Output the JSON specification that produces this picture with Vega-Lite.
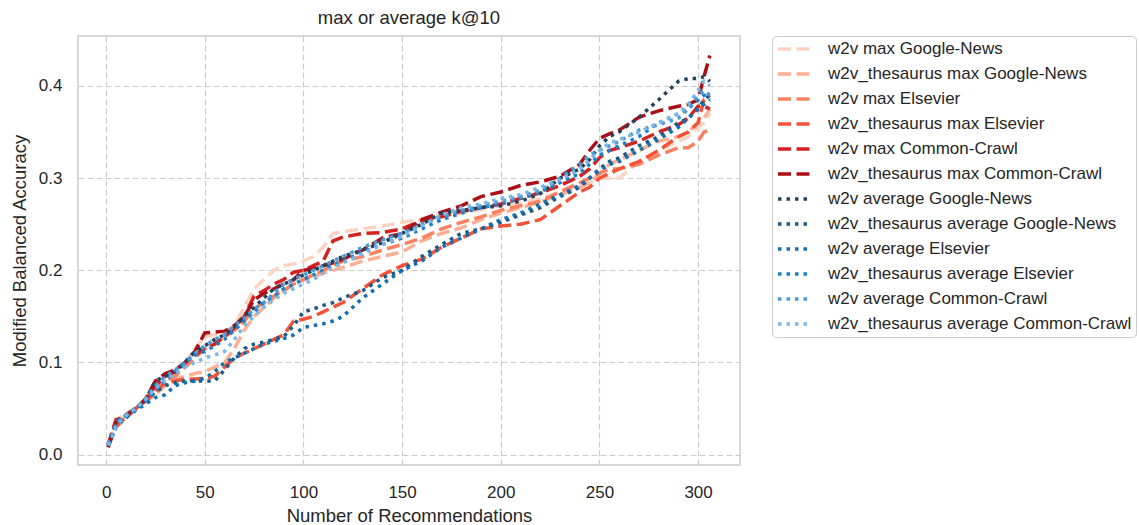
{
"$schema": "https://vega.github.io/schema/vega-lite/v6.json",
"width": 662, "height": 429,
"autosize": {"type": "none"},
"padding": {"left": 78, "top": 36, "right": 399, "bottom": 60},
"title": {"text": "max or average k@10", "fontSize": 18.5, "fontWeight": "normal", "color": "#262626", "offset": 8, "anchor": "middle", "font": "Liberation Sans"},
"data": {"values": [
{"s":"w2v max Google-News","x":1,"y":0.012},{"s":"w2v max Google-News","x":3,"y":0.022},{"s":"w2v max Google-News","x":5,"y":0.035},{"s":"w2v max Google-News","x":8,"y":0.042},{"s":"w2v max Google-News","x":10,"y":0.045},{"s":"w2v max Google-News","x":15,"y":0.05},{"s":"w2v max Google-News","x":20,"y":0.06},{"s":"w2v max Google-News","x":25,"y":0.068},{"s":"w2v max Google-News","x":30,"y":0.08},{"s":"w2v max Google-News","x":35,"y":0.09},{"s":"w2v max Google-News","x":40,"y":0.1},{"s":"w2v max Google-News","x":45,"y":0.115},{"s":"w2v max Google-News","x":50,"y":0.128},{"s":"w2v max Google-News","x":55,"y":0.13},{"s":"w2v max Google-News","x":60,"y":0.133},{"s":"w2v max Google-News","x":65,"y":0.14},{"s":"w2v max Google-News","x":70,"y":0.16},{"s":"w2v max Google-News","x":75,"y":0.18},{"s":"w2v max Google-News","x":80,"y":0.19},{"s":"w2v max Google-News","x":85,"y":0.2},{"s":"w2v max Google-News","x":90,"y":0.205},{"s":"w2v max Google-News","x":95,"y":0.207},{"s":"w2v max Google-News","x":100,"y":0.21},{"s":"w2v max Google-News","x":105,"y":0.215},{"s":"w2v max Google-News","x":110,"y":0.225},{"s":"w2v max Google-News","x":115,"y":0.24},{"s":"w2v max Google-News","x":120,"y":0.242},{"s":"w2v max Google-News","x":130,"y":0.245},{"s":"w2v max Google-News","x":140,"y":0.248},{"s":"w2v max Google-News","x":150,"y":0.252},{"s":"w2v max Google-News","x":160,"y":0.256},{"s":"w2v max Google-News","x":170,"y":0.26},{"s":"w2v max Google-News","x":180,"y":0.262},{"s":"w2v max Google-News","x":190,"y":0.266},{"s":"w2v max Google-News","x":200,"y":0.27},{"s":"w2v max Google-News","x":210,"y":0.273},{"s":"w2v max Google-News","x":220,"y":0.278},{"s":"w2v max Google-News","x":230,"y":0.285},{"s":"w2v max Google-News","x":240,"y":0.292},{"s":"w2v max Google-News","x":245,"y":0.295},{"s":"w2v max Google-News","x":250,"y":0.3},{"s":"w2v max Google-News","x":255,"y":0.3},{"s":"w2v max Google-News","x":260,"y":0.3},{"s":"w2v max Google-News","x":270,"y":0.318},{"s":"w2v max Google-News","x":280,"y":0.33},{"s":"w2v max Google-News","x":290,"y":0.34},{"s":"w2v max Google-News","x":295,"y":0.345},{"s":"w2v max Google-News","x":300,"y":0.355},{"s":"w2v max Google-News","x":303,"y":0.36},{"s":"w2v max Google-News","x":306,"y":0.37},
{"s":"w2v_thesaurus max Google-News","x":1,"y":0.01},{"s":"w2v_thesaurus max Google-News","x":3,"y":0.02},{"s":"w2v_thesaurus max Google-News","x":5,"y":0.03},{"s":"w2v_thesaurus max Google-News","x":8,"y":0.037},{"s":"w2v_thesaurus max Google-News","x":10,"y":0.04},{"s":"w2v_thesaurus max Google-News","x":15,"y":0.05},{"s":"w2v_thesaurus max Google-News","x":20,"y":0.058},{"s":"w2v_thesaurus max Google-News","x":25,"y":0.065},{"s":"w2v_thesaurus max Google-News","x":30,"y":0.075},{"s":"w2v_thesaurus max Google-News","x":35,"y":0.082},{"s":"w2v_thesaurus max Google-News","x":40,"y":0.085},{"s":"w2v_thesaurus max Google-News","x":45,"y":0.088},{"s":"w2v_thesaurus max Google-News","x":50,"y":0.09},{"s":"w2v_thesaurus max Google-News","x":55,"y":0.095},{"s":"w2v_thesaurus max Google-News","x":60,"y":0.1},{"s":"w2v_thesaurus max Google-News","x":65,"y":0.115},{"s":"w2v_thesaurus max Google-News","x":70,"y":0.135},{"s":"w2v_thesaurus max Google-News","x":75,"y":0.15},{"s":"w2v_thesaurus max Google-News","x":80,"y":0.16},{"s":"w2v_thesaurus max Google-News","x":85,"y":0.17},{"s":"w2v_thesaurus max Google-News","x":90,"y":0.178},{"s":"w2v_thesaurus max Google-News","x":95,"y":0.185},{"s":"w2v_thesaurus max Google-News","x":100,"y":0.19},{"s":"w2v_thesaurus max Google-News","x":105,"y":0.193},{"s":"w2v_thesaurus max Google-News","x":110,"y":0.197},{"s":"w2v_thesaurus max Google-News","x":115,"y":0.2},{"s":"w2v_thesaurus max Google-News","x":120,"y":0.203},{"s":"w2v_thesaurus max Google-News","x":130,"y":0.21},{"s":"w2v_thesaurus max Google-News","x":140,"y":0.215},{"s":"w2v_thesaurus max Google-News","x":150,"y":0.22},{"s":"w2v_thesaurus max Google-News","x":160,"y":0.232},{"s":"w2v_thesaurus max Google-News","x":170,"y":0.24},{"s":"w2v_thesaurus max Google-News","x":180,"y":0.246},{"s":"w2v_thesaurus max Google-News","x":190,"y":0.255},{"s":"w2v_thesaurus max Google-News","x":200,"y":0.262},{"s":"w2v_thesaurus max Google-News","x":210,"y":0.268},{"s":"w2v_thesaurus max Google-News","x":220,"y":0.274},{"s":"w2v_thesaurus max Google-News","x":230,"y":0.282},{"s":"w2v_thesaurus max Google-News","x":240,"y":0.29},{"s":"w2v_thesaurus max Google-News","x":245,"y":0.295},{"s":"w2v_thesaurus max Google-News","x":250,"y":0.305},{"s":"w2v_thesaurus max Google-News","x":255,"y":0.315},{"s":"w2v_thesaurus max Google-News","x":260,"y":0.32},{"s":"w2v_thesaurus max Google-News","x":270,"y":0.33},{"s":"w2v_thesaurus max Google-News","x":280,"y":0.34},{"s":"w2v_thesaurus max Google-News","x":290,"y":0.345},{"s":"w2v_thesaurus max Google-News","x":295,"y":0.35},{"s":"w2v_thesaurus max Google-News","x":300,"y":0.36},{"s":"w2v_thesaurus max Google-News","x":303,"y":0.365},{"s":"w2v_thesaurus max Google-News","x":306,"y":0.375},
{"s":"w2v max Elsevier","x":1,"y":0.01},{"s":"w2v max Elsevier","x":3,"y":0.022},{"s":"w2v max Elsevier","x":5,"y":0.035},{"s":"w2v max Elsevier","x":8,"y":0.04},{"s":"w2v max Elsevier","x":10,"y":0.043},{"s":"w2v max Elsevier","x":15,"y":0.05},{"s":"w2v max Elsevier","x":20,"y":0.06},{"s":"w2v max Elsevier","x":25,"y":0.072},{"s":"w2v max Elsevier","x":30,"y":0.08},{"s":"w2v max Elsevier","x":35,"y":0.085},{"s":"w2v max Elsevier","x":40,"y":0.095},{"s":"w2v max Elsevier","x":45,"y":0.105},{"s":"w2v max Elsevier","x":50,"y":0.115},{"s":"w2v max Elsevier","x":55,"y":0.12},{"s":"w2v max Elsevier","x":60,"y":0.128},{"s":"w2v max Elsevier","x":65,"y":0.135},{"s":"w2v max Elsevier","x":70,"y":0.145},{"s":"w2v max Elsevier","x":75,"y":0.158},{"s":"w2v max Elsevier","x":80,"y":0.165},{"s":"w2v max Elsevier","x":85,"y":0.172},{"s":"w2v max Elsevier","x":90,"y":0.178},{"s":"w2v max Elsevier","x":95,"y":0.185},{"s":"w2v max Elsevier","x":100,"y":0.19},{"s":"w2v max Elsevier","x":105,"y":0.195},{"s":"w2v max Elsevier","x":110,"y":0.2},{"s":"w2v max Elsevier","x":115,"y":0.205},{"s":"w2v max Elsevier","x":120,"y":0.21},{"s":"w2v max Elsevier","x":130,"y":0.215},{"s":"w2v max Elsevier","x":140,"y":0.222},{"s":"w2v max Elsevier","x":150,"y":0.228},{"s":"w2v max Elsevier","x":160,"y":0.235},{"s":"w2v max Elsevier","x":170,"y":0.245},{"s":"w2v max Elsevier","x":180,"y":0.252},{"s":"w2v max Elsevier","x":190,"y":0.258},{"s":"w2v max Elsevier","x":200,"y":0.265},{"s":"w2v max Elsevier","x":210,"y":0.27},{"s":"w2v max Elsevier","x":220,"y":0.275},{"s":"w2v max Elsevier","x":230,"y":0.285},{"s":"w2v max Elsevier","x":240,"y":0.295},{"s":"w2v max Elsevier","x":245,"y":0.3},{"s":"w2v max Elsevier","x":250,"y":0.305},{"s":"w2v max Elsevier","x":255,"y":0.31},{"s":"w2v max Elsevier","x":260,"y":0.31},{"s":"w2v max Elsevier","x":270,"y":0.315},{"s":"w2v max Elsevier","x":280,"y":0.325},{"s":"w2v max Elsevier","x":290,"y":0.333},{"s":"w2v max Elsevier","x":295,"y":0.333},{"s":"w2v max Elsevier","x":300,"y":0.34},{"s":"w2v max Elsevier","x":303,"y":0.35},{"s":"w2v max Elsevier","x":306,"y":0.352},
{"s":"w2v_thesaurus max Elsevier","x":1,"y":0.01},{"s":"w2v_thesaurus max Elsevier","x":3,"y":0.02},{"s":"w2v_thesaurus max Elsevier","x":5,"y":0.03},{"s":"w2v_thesaurus max Elsevier","x":8,"y":0.037},{"s":"w2v_thesaurus max Elsevier","x":10,"y":0.04},{"s":"w2v_thesaurus max Elsevier","x":15,"y":0.05},{"s":"w2v_thesaurus max Elsevier","x":20,"y":0.058},{"s":"w2v_thesaurus max Elsevier","x":25,"y":0.068},{"s":"w2v_thesaurus max Elsevier","x":30,"y":0.078},{"s":"w2v_thesaurus max Elsevier","x":35,"y":0.08},{"s":"w2v_thesaurus max Elsevier","x":40,"y":0.082},{"s":"w2v_thesaurus max Elsevier","x":45,"y":0.082},{"s":"w2v_thesaurus max Elsevier","x":50,"y":0.083},{"s":"w2v_thesaurus max Elsevier","x":55,"y":0.085},{"s":"w2v_thesaurus max Elsevier","x":60,"y":0.095},{"s":"w2v_thesaurus max Elsevier","x":65,"y":0.105},{"s":"w2v_thesaurus max Elsevier","x":70,"y":0.11},{"s":"w2v_thesaurus max Elsevier","x":75,"y":0.115},{"s":"w2v_thesaurus max Elsevier","x":80,"y":0.12},{"s":"w2v_thesaurus max Elsevier","x":85,"y":0.125},{"s":"w2v_thesaurus max Elsevier","x":90,"y":0.13},{"s":"w2v_thesaurus max Elsevier","x":95,"y":0.145},{"s":"w2v_thesaurus max Elsevier","x":100,"y":0.147},{"s":"w2v_thesaurus max Elsevier","x":105,"y":0.15},{"s":"w2v_thesaurus max Elsevier","x":110,"y":0.155},{"s":"w2v_thesaurus max Elsevier","x":115,"y":0.16},{"s":"w2v_thesaurus max Elsevier","x":120,"y":0.165},{"s":"w2v_thesaurus max Elsevier","x":130,"y":0.18},{"s":"w2v_thesaurus max Elsevier","x":140,"y":0.195},{"s":"w2v_thesaurus max Elsevier","x":150,"y":0.205},{"s":"w2v_thesaurus max Elsevier","x":160,"y":0.212},{"s":"w2v_thesaurus max Elsevier","x":170,"y":0.225},{"s":"w2v_thesaurus max Elsevier","x":180,"y":0.235},{"s":"w2v_thesaurus max Elsevier","x":190,"y":0.245},{"s":"w2v_thesaurus max Elsevier","x":200,"y":0.248},{"s":"w2v_thesaurus max Elsevier","x":210,"y":0.25},{"s":"w2v_thesaurus max Elsevier","x":220,"y":0.255},{"s":"w2v_thesaurus max Elsevier","x":230,"y":0.27},{"s":"w2v_thesaurus max Elsevier","x":240,"y":0.285},{"s":"w2v_thesaurus max Elsevier","x":245,"y":0.29},{"s":"w2v_thesaurus max Elsevier","x":250,"y":0.3},{"s":"w2v_thesaurus max Elsevier","x":255,"y":0.305},{"s":"w2v_thesaurus max Elsevier","x":260,"y":0.31},{"s":"w2v_thesaurus max Elsevier","x":270,"y":0.318},{"s":"w2v_thesaurus max Elsevier","x":280,"y":0.33},{"s":"w2v_thesaurus max Elsevier","x":290,"y":0.345},{"s":"w2v_thesaurus max Elsevier","x":295,"y":0.35},{"s":"w2v_thesaurus max Elsevier","x":300,"y":0.36},{"s":"w2v_thesaurus max Elsevier","x":303,"y":0.385},{"s":"w2v_thesaurus max Elsevier","x":306,"y":0.39},
{"s":"w2v max Common-Crawl","x":1,"y":0.01},{"s":"w2v max Common-Crawl","x":3,"y":0.025},{"s":"w2v max Common-Crawl","x":5,"y":0.038},{"s":"w2v max Common-Crawl","x":8,"y":0.04},{"s":"w2v max Common-Crawl","x":10,"y":0.043},{"s":"w2v max Common-Crawl","x":15,"y":0.05},{"s":"w2v max Common-Crawl","x":20,"y":0.06},{"s":"w2v max Common-Crawl","x":25,"y":0.075},{"s":"w2v max Common-Crawl","x":30,"y":0.085},{"s":"w2v max Common-Crawl","x":35,"y":0.09},{"s":"w2v max Common-Crawl","x":40,"y":0.1},{"s":"w2v max Common-Crawl","x":45,"y":0.108},{"s":"w2v max Common-Crawl","x":50,"y":0.115},{"s":"w2v max Common-Crawl","x":55,"y":0.12},{"s":"w2v max Common-Crawl","x":60,"y":0.128},{"s":"w2v max Common-Crawl","x":65,"y":0.138},{"s":"w2v max Common-Crawl","x":70,"y":0.15},{"s":"w2v max Common-Crawl","x":75,"y":0.172},{"s":"w2v max Common-Crawl","x":80,"y":0.178},{"s":"w2v max Common-Crawl","x":85,"y":0.185},{"s":"w2v max Common-Crawl","x":90,"y":0.19},{"s":"w2v max Common-Crawl","x":95,"y":0.198},{"s":"w2v max Common-Crawl","x":100,"y":0.2},{"s":"w2v max Common-Crawl","x":105,"y":0.205},{"s":"w2v max Common-Crawl","x":110,"y":0.21},{"s":"w2v max Common-Crawl","x":115,"y":0.232},{"s":"w2v max Common-Crawl","x":120,"y":0.236},{"s":"w2v max Common-Crawl","x":130,"y":0.24},{"s":"w2v max Common-Crawl","x":140,"y":0.241},{"s":"w2v max Common-Crawl","x":150,"y":0.245},{"s":"w2v max Common-Crawl","x":160,"y":0.254},{"s":"w2v max Common-Crawl","x":170,"y":0.258},{"s":"w2v max Common-Crawl","x":180,"y":0.264},{"s":"w2v max Common-Crawl","x":190,"y":0.268},{"s":"w2v max Common-Crawl","x":200,"y":0.272},{"s":"w2v max Common-Crawl","x":210,"y":0.278},{"s":"w2v max Common-Crawl","x":220,"y":0.284},{"s":"w2v max Common-Crawl","x":230,"y":0.292},{"s":"w2v max Common-Crawl","x":240,"y":0.302},{"s":"w2v max Common-Crawl","x":245,"y":0.31},{"s":"w2v max Common-Crawl","x":250,"y":0.322},{"s":"w2v max Common-Crawl","x":255,"y":0.33},{"s":"w2v max Common-Crawl","x":260,"y":0.333},{"s":"w2v max Common-Crawl","x":270,"y":0.34},{"s":"w2v max Common-Crawl","x":280,"y":0.35},{"s":"w2v max Common-Crawl","x":290,"y":0.358},{"s":"w2v max Common-Crawl","x":295,"y":0.365},{"s":"w2v max Common-Crawl","x":300,"y":0.378},{"s":"w2v max Common-Crawl","x":303,"y":0.378},{"s":"w2v max Common-Crawl","x":306,"y":0.375},
{"s":"w2v_thesaurus max Common-Crawl","x":1,"y":0.008},{"s":"w2v_thesaurus max Common-Crawl","x":3,"y":0.02},{"s":"w2v_thesaurus max Common-Crawl","x":5,"y":0.035},{"s":"w2v_thesaurus max Common-Crawl","x":8,"y":0.04},{"s":"w2v_thesaurus max Common-Crawl","x":10,"y":0.042},{"s":"w2v_thesaurus max Common-Crawl","x":15,"y":0.05},{"s":"w2v_thesaurus max Common-Crawl","x":20,"y":0.06},{"s":"w2v_thesaurus max Common-Crawl","x":25,"y":0.08},{"s":"w2v_thesaurus max Common-Crawl","x":30,"y":0.088},{"s":"w2v_thesaurus max Common-Crawl","x":35,"y":0.092},{"s":"w2v_thesaurus max Common-Crawl","x":40,"y":0.1},{"s":"w2v_thesaurus max Common-Crawl","x":45,"y":0.112},{"s":"w2v_thesaurus max Common-Crawl","x":50,"y":0.132},{"s":"w2v_thesaurus max Common-Crawl","x":55,"y":0.133},{"s":"w2v_thesaurus max Common-Crawl","x":60,"y":0.134},{"s":"w2v_thesaurus max Common-Crawl","x":65,"y":0.14},{"s":"w2v_thesaurus max Common-Crawl","x":70,"y":0.15},{"s":"w2v_thesaurus max Common-Crawl","x":75,"y":0.168},{"s":"w2v_thesaurus max Common-Crawl","x":80,"y":0.175},{"s":"w2v_thesaurus max Common-Crawl","x":85,"y":0.18},{"s":"w2v_thesaurus max Common-Crawl","x":90,"y":0.185},{"s":"w2v_thesaurus max Common-Crawl","x":95,"y":0.19},{"s":"w2v_thesaurus max Common-Crawl","x":100,"y":0.2},{"s":"w2v_thesaurus max Common-Crawl","x":105,"y":0.202},{"s":"w2v_thesaurus max Common-Crawl","x":110,"y":0.205},{"s":"w2v_thesaurus max Common-Crawl","x":115,"y":0.208},{"s":"w2v_thesaurus max Common-Crawl","x":120,"y":0.212},{"s":"w2v_thesaurus max Common-Crawl","x":130,"y":0.222},{"s":"w2v_thesaurus max Common-Crawl","x":140,"y":0.235},{"s":"w2v_thesaurus max Common-Crawl","x":150,"y":0.24},{"s":"w2v_thesaurus max Common-Crawl","x":160,"y":0.255},{"s":"w2v_thesaurus max Common-Crawl","x":170,"y":0.263},{"s":"w2v_thesaurus max Common-Crawl","x":180,"y":0.27},{"s":"w2v_thesaurus max Common-Crawl","x":190,"y":0.28},{"s":"w2v_thesaurus max Common-Crawl","x":200,"y":0.285},{"s":"w2v_thesaurus max Common-Crawl","x":210,"y":0.292},{"s":"w2v_thesaurus max Common-Crawl","x":220,"y":0.296},{"s":"w2v_thesaurus max Common-Crawl","x":230,"y":0.302},{"s":"w2v_thesaurus max Common-Crawl","x":240,"y":0.315},{"s":"w2v_thesaurus max Common-Crawl","x":245,"y":0.33},{"s":"w2v_thesaurus max Common-Crawl","x":250,"y":0.343},{"s":"w2v_thesaurus max Common-Crawl","x":255,"y":0.348},{"s":"w2v_thesaurus max Common-Crawl","x":260,"y":0.352},{"s":"w2v_thesaurus max Common-Crawl","x":270,"y":0.366},{"s":"w2v_thesaurus max Common-Crawl","x":280,"y":0.373},{"s":"w2v_thesaurus max Common-Crawl","x":290,"y":0.378},{"s":"w2v_thesaurus max Common-Crawl","x":295,"y":0.38},{"s":"w2v_thesaurus max Common-Crawl","x":300,"y":0.385},{"s":"w2v_thesaurus max Common-Crawl","x":303,"y":0.41},{"s":"w2v_thesaurus max Common-Crawl","x":306,"y":0.433},
{"s":"w2v average Google-News","x":1,"y":0.01},{"s":"w2v average Google-News","x":3,"y":0.02},{"s":"w2v average Google-News","x":5,"y":0.033},{"s":"w2v average Google-News","x":8,"y":0.04},{"s":"w2v average Google-News","x":10,"y":0.042},{"s":"w2v average Google-News","x":15,"y":0.05},{"s":"w2v average Google-News","x":20,"y":0.06},{"s":"w2v average Google-News","x":25,"y":0.08},{"s":"w2v average Google-News","x":30,"y":0.085},{"s":"w2v average Google-News","x":35,"y":0.09},{"s":"w2v average Google-News","x":40,"y":0.1},{"s":"w2v average Google-News","x":45,"y":0.112},{"s":"w2v average Google-News","x":50,"y":0.118},{"s":"w2v average Google-News","x":55,"y":0.125},{"s":"w2v average Google-News","x":60,"y":0.13},{"s":"w2v average Google-News","x":65,"y":0.138},{"s":"w2v average Google-News","x":70,"y":0.15},{"s":"w2v average Google-News","x":75,"y":0.16},{"s":"w2v average Google-News","x":80,"y":0.17},{"s":"w2v average Google-News","x":85,"y":0.18},{"s":"w2v average Google-News","x":90,"y":0.185},{"s":"w2v average Google-News","x":95,"y":0.19},{"s":"w2v average Google-News","x":100,"y":0.195},{"s":"w2v average Google-News","x":105,"y":0.2},{"s":"w2v average Google-News","x":110,"y":0.205},{"s":"w2v average Google-News","x":115,"y":0.21},{"s":"w2v average Google-News","x":120,"y":0.215},{"s":"w2v average Google-News","x":130,"y":0.222},{"s":"w2v average Google-News","x":140,"y":0.23},{"s":"w2v average Google-News","x":150,"y":0.24},{"s":"w2v average Google-News","x":160,"y":0.25},{"s":"w2v average Google-News","x":170,"y":0.262},{"s":"w2v average Google-News","x":180,"y":0.265},{"s":"w2v average Google-News","x":190,"y":0.268},{"s":"w2v average Google-News","x":200,"y":0.27},{"s":"w2v average Google-News","x":210,"y":0.275},{"s":"w2v average Google-News","x":220,"y":0.283},{"s":"w2v average Google-News","x":230,"y":0.3},{"s":"w2v average Google-News","x":240,"y":0.31},{"s":"w2v average Google-News","x":245,"y":0.32},{"s":"w2v average Google-News","x":250,"y":0.335},{"s":"w2v average Google-News","x":255,"y":0.345},{"s":"w2v average Google-News","x":260,"y":0.35},{"s":"w2v average Google-News","x":270,"y":0.366},{"s":"w2v average Google-News","x":280,"y":0.385},{"s":"w2v average Google-News","x":290,"y":0.405},{"s":"w2v average Google-News","x":295,"y":0.408},{"s":"w2v average Google-News","x":300,"y":0.408},{"s":"w2v average Google-News","x":303,"y":0.41},{"s":"w2v average Google-News","x":306,"y":0.405},
{"s":"w2v_thesaurus average Google-News","x":1,"y":0.01},{"s":"w2v_thesaurus average Google-News","x":3,"y":0.02},{"s":"w2v_thesaurus average Google-News","x":5,"y":0.03},{"s":"w2v_thesaurus average Google-News","x":8,"y":0.038},{"s":"w2v_thesaurus average Google-News","x":10,"y":0.04},{"s":"w2v_thesaurus average Google-News","x":15,"y":0.05},{"s":"w2v_thesaurus average Google-News","x":20,"y":0.058},{"s":"w2v_thesaurus average Google-News","x":25,"y":0.068},{"s":"w2v_thesaurus average Google-News","x":30,"y":0.075},{"s":"w2v_thesaurus average Google-News","x":35,"y":0.078},{"s":"w2v_thesaurus average Google-News","x":40,"y":0.08},{"s":"w2v_thesaurus average Google-News","x":45,"y":0.08},{"s":"w2v_thesaurus average Google-News","x":50,"y":0.08},{"s":"w2v_thesaurus average Google-News","x":55,"y":0.08},{"s":"w2v_thesaurus average Google-News","x":60,"y":0.092},{"s":"w2v_thesaurus average Google-News","x":65,"y":0.105},{"s":"w2v_thesaurus average Google-News","x":70,"y":0.115},{"s":"w2v_thesaurus average Google-News","x":75,"y":0.12},{"s":"w2v_thesaurus average Google-News","x":80,"y":0.122},{"s":"w2v_thesaurus average Google-News","x":85,"y":0.125},{"s":"w2v_thesaurus average Google-News","x":90,"y":0.128},{"s":"w2v_thesaurus average Google-News","x":95,"y":0.14},{"s":"w2v_thesaurus average Google-News","x":100,"y":0.155},{"s":"w2v_thesaurus average Google-News","x":105,"y":0.158},{"s":"w2v_thesaurus average Google-News","x":110,"y":0.162},{"s":"w2v_thesaurus average Google-News","x":115,"y":0.165},{"s":"w2v_thesaurus average Google-News","x":120,"y":0.17},{"s":"w2v_thesaurus average Google-News","x":130,"y":0.178},{"s":"w2v_thesaurus average Google-News","x":140,"y":0.192},{"s":"w2v_thesaurus average Google-News","x":150,"y":0.2},{"s":"w2v_thesaurus average Google-News","x":160,"y":0.215},{"s":"w2v_thesaurus average Google-News","x":170,"y":0.228},{"s":"w2v_thesaurus average Google-News","x":180,"y":0.24},{"s":"w2v_thesaurus average Google-News","x":190,"y":0.245},{"s":"w2v_thesaurus average Google-News","x":200,"y":0.252},{"s":"w2v_thesaurus average Google-News","x":210,"y":0.26},{"s":"w2v_thesaurus average Google-News","x":220,"y":0.268},{"s":"w2v_thesaurus average Google-News","x":230,"y":0.28},{"s":"w2v_thesaurus average Google-News","x":240,"y":0.29},{"s":"w2v_thesaurus average Google-News","x":245,"y":0.3},{"s":"w2v_thesaurus average Google-News","x":250,"y":0.31},{"s":"w2v_thesaurus average Google-News","x":255,"y":0.318},{"s":"w2v_thesaurus average Google-News","x":260,"y":0.322},{"s":"w2v_thesaurus average Google-News","x":270,"y":0.335},{"s":"w2v_thesaurus average Google-News","x":280,"y":0.345},{"s":"w2v_thesaurus average Google-News","x":290,"y":0.36},{"s":"w2v_thesaurus average Google-News","x":295,"y":0.365},{"s":"w2v_thesaurus average Google-News","x":300,"y":0.375},{"s":"w2v_thesaurus average Google-News","x":303,"y":0.385},{"s":"w2v_thesaurus average Google-News","x":306,"y":0.39},
{"s":"w2v average Elsevier","x":1,"y":0.01},{"s":"w2v average Elsevier","x":3,"y":0.02},{"s":"w2v average Elsevier","x":5,"y":0.03},{"s":"w2v average Elsevier","x":8,"y":0.036},{"s":"w2v average Elsevier","x":10,"y":0.04},{"s":"w2v average Elsevier","x":15,"y":0.048},{"s":"w2v average Elsevier","x":20,"y":0.055},{"s":"w2v average Elsevier","x":25,"y":0.062},{"s":"w2v average Elsevier","x":30,"y":0.065},{"s":"w2v average Elsevier","x":35,"y":0.075},{"s":"w2v average Elsevier","x":40,"y":0.078},{"s":"w2v average Elsevier","x":45,"y":0.08},{"s":"w2v average Elsevier","x":50,"y":0.083},{"s":"w2v average Elsevier","x":55,"y":0.09},{"s":"w2v average Elsevier","x":60,"y":0.1},{"s":"w2v average Elsevier","x":65,"y":0.105},{"s":"w2v average Elsevier","x":70,"y":0.11},{"s":"w2v average Elsevier","x":75,"y":0.115},{"s":"w2v average Elsevier","x":80,"y":0.12},{"s":"w2v average Elsevier","x":85,"y":0.123},{"s":"w2v average Elsevier","x":90,"y":0.126},{"s":"w2v average Elsevier","x":95,"y":0.13},{"s":"w2v average Elsevier","x":100,"y":0.138},{"s":"w2v average Elsevier","x":105,"y":0.14},{"s":"w2v average Elsevier","x":110,"y":0.142},{"s":"w2v average Elsevier","x":115,"y":0.145},{"s":"w2v average Elsevier","x":120,"y":0.15},{"s":"w2v average Elsevier","x":130,"y":0.17},{"s":"w2v average Elsevier","x":140,"y":0.185},{"s":"w2v average Elsevier","x":150,"y":0.2},{"s":"w2v average Elsevier","x":160,"y":0.21},{"s":"w2v average Elsevier","x":170,"y":0.225},{"s":"w2v average Elsevier","x":180,"y":0.235},{"s":"w2v average Elsevier","x":190,"y":0.245},{"s":"w2v average Elsevier","x":200,"y":0.255},{"s":"w2v average Elsevier","x":210,"y":0.262},{"s":"w2v average Elsevier","x":220,"y":0.272},{"s":"w2v average Elsevier","x":230,"y":0.282},{"s":"w2v average Elsevier","x":240,"y":0.292},{"s":"w2v average Elsevier","x":245,"y":0.3},{"s":"w2v average Elsevier","x":250,"y":0.308},{"s":"w2v average Elsevier","x":255,"y":0.315},{"s":"w2v average Elsevier","x":260,"y":0.318},{"s":"w2v average Elsevier","x":270,"y":0.33},{"s":"w2v average Elsevier","x":280,"y":0.342},{"s":"w2v average Elsevier","x":290,"y":0.355},{"s":"w2v average Elsevier","x":295,"y":0.365},{"s":"w2v average Elsevier","x":300,"y":0.375},{"s":"w2v average Elsevier","x":303,"y":0.38},{"s":"w2v average Elsevier","x":306,"y":0.385},
{"s":"w2v_thesaurus average Elsevier","x":1,"y":0.01},{"s":"w2v_thesaurus average Elsevier","x":3,"y":0.022},{"s":"w2v_thesaurus average Elsevier","x":5,"y":0.035},{"s":"w2v_thesaurus average Elsevier","x":8,"y":0.04},{"s":"w2v_thesaurus average Elsevier","x":10,"y":0.042},{"s":"w2v_thesaurus average Elsevier","x":15,"y":0.05},{"s":"w2v_thesaurus average Elsevier","x":20,"y":0.058},{"s":"w2v_thesaurus average Elsevier","x":25,"y":0.07},{"s":"w2v_thesaurus average Elsevier","x":30,"y":0.08},{"s":"w2v_thesaurus average Elsevier","x":35,"y":0.09},{"s":"w2v_thesaurus average Elsevier","x":40,"y":0.1},{"s":"w2v_thesaurus average Elsevier","x":45,"y":0.108},{"s":"w2v_thesaurus average Elsevier","x":50,"y":0.112},{"s":"w2v_thesaurus average Elsevier","x":55,"y":0.118},{"s":"w2v_thesaurus average Elsevier","x":60,"y":0.125},{"s":"w2v_thesaurus average Elsevier","x":65,"y":0.135},{"s":"w2v_thesaurus average Elsevier","x":70,"y":0.145},{"s":"w2v_thesaurus average Elsevier","x":75,"y":0.155},{"s":"w2v_thesaurus average Elsevier","x":80,"y":0.165},{"s":"w2v_thesaurus average Elsevier","x":85,"y":0.172},{"s":"w2v_thesaurus average Elsevier","x":90,"y":0.18},{"s":"w2v_thesaurus average Elsevier","x":95,"y":0.185},{"s":"w2v_thesaurus average Elsevier","x":100,"y":0.19},{"s":"w2v_thesaurus average Elsevier","x":105,"y":0.195},{"s":"w2v_thesaurus average Elsevier","x":110,"y":0.2},{"s":"w2v_thesaurus average Elsevier","x":115,"y":0.206},{"s":"w2v_thesaurus average Elsevier","x":120,"y":0.21},{"s":"w2v_thesaurus average Elsevier","x":130,"y":0.22},{"s":"w2v_thesaurus average Elsevier","x":140,"y":0.228},{"s":"w2v_thesaurus average Elsevier","x":150,"y":0.235},{"s":"w2v_thesaurus average Elsevier","x":160,"y":0.245},{"s":"w2v_thesaurus average Elsevier","x":170,"y":0.255},{"s":"w2v_thesaurus average Elsevier","x":180,"y":0.262},{"s":"w2v_thesaurus average Elsevier","x":190,"y":0.268},{"s":"w2v_thesaurus average Elsevier","x":200,"y":0.272},{"s":"w2v_thesaurus average Elsevier","x":210,"y":0.278},{"s":"w2v_thesaurus average Elsevier","x":220,"y":0.285},{"s":"w2v_thesaurus average Elsevier","x":230,"y":0.295},{"s":"w2v_thesaurus average Elsevier","x":240,"y":0.305},{"s":"w2v_thesaurus average Elsevier","x":245,"y":0.315},{"s":"w2v_thesaurus average Elsevier","x":250,"y":0.325},{"s":"w2v_thesaurus average Elsevier","x":255,"y":0.33},{"s":"w2v_thesaurus average Elsevier","x":260,"y":0.335},{"s":"w2v_thesaurus average Elsevier","x":270,"y":0.345},{"s":"w2v_thesaurus average Elsevier","x":280,"y":0.36},{"s":"w2v_thesaurus average Elsevier","x":290,"y":0.37},{"s":"w2v_thesaurus average Elsevier","x":295,"y":0.375},{"s":"w2v_thesaurus average Elsevier","x":300,"y":0.385},{"s":"w2v_thesaurus average Elsevier","x":303,"y":0.39},{"s":"w2v_thesaurus average Elsevier","x":306,"y":0.385},
{"s":"w2v average Common-Crawl","x":1,"y":0.012},{"s":"w2v average Common-Crawl","x":3,"y":0.02},{"s":"w2v average Common-Crawl","x":5,"y":0.032},{"s":"w2v average Common-Crawl","x":8,"y":0.04},{"s":"w2v average Common-Crawl","x":10,"y":0.043},{"s":"w2v average Common-Crawl","x":15,"y":0.05},{"s":"w2v average Common-Crawl","x":20,"y":0.06},{"s":"w2v average Common-Crawl","x":25,"y":0.075},{"s":"w2v average Common-Crawl","x":30,"y":0.085},{"s":"w2v average Common-Crawl","x":35,"y":0.092},{"s":"w2v average Common-Crawl","x":40,"y":0.1},{"s":"w2v average Common-Crawl","x":45,"y":0.11},{"s":"w2v average Common-Crawl","x":50,"y":0.118},{"s":"w2v average Common-Crawl","x":55,"y":0.125},{"s":"w2v average Common-Crawl","x":60,"y":0.13},{"s":"w2v average Common-Crawl","x":65,"y":0.14},{"s":"w2v average Common-Crawl","x":70,"y":0.148},{"s":"w2v average Common-Crawl","x":75,"y":0.158},{"s":"w2v average Common-Crawl","x":80,"y":0.165},{"s":"w2v average Common-Crawl","x":85,"y":0.175},{"s":"w2v average Common-Crawl","x":90,"y":0.185},{"s":"w2v average Common-Crawl","x":95,"y":0.19},{"s":"w2v average Common-Crawl","x":100,"y":0.195},{"s":"w2v average Common-Crawl","x":105,"y":0.2},{"s":"w2v average Common-Crawl","x":110,"y":0.205},{"s":"w2v average Common-Crawl","x":115,"y":0.21},{"s":"w2v average Common-Crawl","x":120,"y":0.215},{"s":"w2v average Common-Crawl","x":130,"y":0.225},{"s":"w2v average Common-Crawl","x":140,"y":0.233},{"s":"w2v average Common-Crawl","x":150,"y":0.24},{"s":"w2v average Common-Crawl","x":160,"y":0.25},{"s":"w2v average Common-Crawl","x":170,"y":0.258},{"s":"w2v average Common-Crawl","x":180,"y":0.265},{"s":"w2v average Common-Crawl","x":190,"y":0.27},{"s":"w2v average Common-Crawl","x":200,"y":0.275},{"s":"w2v average Common-Crawl","x":210,"y":0.28},{"s":"w2v average Common-Crawl","x":220,"y":0.287},{"s":"w2v average Common-Crawl","x":230,"y":0.3},{"s":"w2v average Common-Crawl","x":240,"y":0.315},{"s":"w2v average Common-Crawl","x":245,"y":0.325},{"s":"w2v average Common-Crawl","x":250,"y":0.33},{"s":"w2v average Common-Crawl","x":255,"y":0.335},{"s":"w2v average Common-Crawl","x":260,"y":0.34},{"s":"w2v average Common-Crawl","x":270,"y":0.352},{"s":"w2v average Common-Crawl","x":280,"y":0.358},{"s":"w2v average Common-Crawl","x":290,"y":0.365},{"s":"w2v average Common-Crawl","x":295,"y":0.375},{"s":"w2v average Common-Crawl","x":300,"y":0.39},{"s":"w2v average Common-Crawl","x":303,"y":0.395},{"s":"w2v average Common-Crawl","x":306,"y":0.39},
{"s":"w2v_thesaurus average Common-Crawl","x":1,"y":0.01},{"s":"w2v_thesaurus average Common-Crawl","x":3,"y":0.018},{"s":"w2v_thesaurus average Common-Crawl","x":5,"y":0.03},{"s":"w2v_thesaurus average Common-Crawl","x":8,"y":0.038},{"s":"w2v_thesaurus average Common-Crawl","x":10,"y":0.042},{"s":"w2v_thesaurus average Common-Crawl","x":15,"y":0.05},{"s":"w2v_thesaurus average Common-Crawl","x":20,"y":0.06},{"s":"w2v_thesaurus average Common-Crawl","x":25,"y":0.072},{"s":"w2v_thesaurus average Common-Crawl","x":30,"y":0.08},{"s":"w2v_thesaurus average Common-Crawl","x":35,"y":0.088},{"s":"w2v_thesaurus average Common-Crawl","x":40,"y":0.095},{"s":"w2v_thesaurus average Common-Crawl","x":45,"y":0.1},{"s":"w2v_thesaurus average Common-Crawl","x":50,"y":0.105},{"s":"w2v_thesaurus average Common-Crawl","x":55,"y":0.108},{"s":"w2v_thesaurus average Common-Crawl","x":60,"y":0.112},{"s":"w2v_thesaurus average Common-Crawl","x":65,"y":0.125},{"s":"w2v_thesaurus average Common-Crawl","x":70,"y":0.14},{"s":"w2v_thesaurus average Common-Crawl","x":75,"y":0.15},{"s":"w2v_thesaurus average Common-Crawl","x":80,"y":0.16},{"s":"w2v_thesaurus average Common-Crawl","x":85,"y":0.168},{"s":"w2v_thesaurus average Common-Crawl","x":90,"y":0.175},{"s":"w2v_thesaurus average Common-Crawl","x":95,"y":0.18},{"s":"w2v_thesaurus average Common-Crawl","x":100,"y":0.185},{"s":"w2v_thesaurus average Common-Crawl","x":105,"y":0.19},{"s":"w2v_thesaurus average Common-Crawl","x":110,"y":0.197},{"s":"w2v_thesaurus average Common-Crawl","x":115,"y":0.203},{"s":"w2v_thesaurus average Common-Crawl","x":120,"y":0.208},{"s":"w2v_thesaurus average Common-Crawl","x":130,"y":0.218},{"s":"w2v_thesaurus average Common-Crawl","x":140,"y":0.228},{"s":"w2v_thesaurus average Common-Crawl","x":150,"y":0.237},{"s":"w2v_thesaurus average Common-Crawl","x":160,"y":0.248},{"s":"w2v_thesaurus average Common-Crawl","x":170,"y":0.26},{"s":"w2v_thesaurus average Common-Crawl","x":180,"y":0.268},{"s":"w2v_thesaurus average Common-Crawl","x":190,"y":0.272},{"s":"w2v_thesaurus average Common-Crawl","x":200,"y":0.278},{"s":"w2v_thesaurus average Common-Crawl","x":210,"y":0.282},{"s":"w2v_thesaurus average Common-Crawl","x":220,"y":0.29},{"s":"w2v_thesaurus average Common-Crawl","x":230,"y":0.298},{"s":"w2v_thesaurus average Common-Crawl","x":240,"y":0.31},{"s":"w2v_thesaurus average Common-Crawl","x":245,"y":0.32},{"s":"w2v_thesaurus average Common-Crawl","x":250,"y":0.33},{"s":"w2v_thesaurus average Common-Crawl","x":255,"y":0.338},{"s":"w2v_thesaurus average Common-Crawl","x":260,"y":0.342},{"s":"w2v_thesaurus average Common-Crawl","x":270,"y":0.35},{"s":"w2v_thesaurus average Common-Crawl","x":280,"y":0.36},{"s":"w2v_thesaurus average Common-Crawl","x":290,"y":0.37},{"s":"w2v_thesaurus average Common-Crawl","x":295,"y":0.38},{"s":"w2v_thesaurus average Common-Crawl","x":300,"y":0.395},{"s":"w2v_thesaurus average Common-Crawl","x":303,"y":0.405},{"s":"w2v_thesaurus average Common-Crawl","x":306,"y":0.4}
]},
"mark": {"type": "line", "strokeWidth": 3.5, "clip": true},
"encoding": {
  "x": {"field": "x", "type": "quantitative", "title": "Number of Recommendations",
        "scale": {"domain": [-14.25, 321.25], "nice": false, "zero": false},
        "axis": {"values": [0, 50, 100, 150, 200, 250, 300], "labelPadding": 19, "titlePadding": 6}},
  "y": {"field": "y", "type": "quantitative", "title": "Modified Balanced Accuracy",
        "scale": {"domain": [-0.0112, 0.4542], "nice": false, "zero": false},
        "axis": {"values": [0, 0.1, 0.2, 0.3, 0.4], "format": ".1f", "labelPadding": 16, "titlePadding": 9}},
  "color": {"field": "s", "type": "nominal",
        "scale": {"domain": ["w2v max Google-News","w2v_thesaurus max Google-News","w2v max Elsevier","w2v_thesaurus max Elsevier","w2v max Common-Crawl","w2v_thesaurus max Common-Crawl","w2v average Google-News","w2v_thesaurus average Google-News","w2v average Elsevier","w2v_thesaurus average Elsevier","w2v average Common-Crawl","w2v_thesaurus average Common-Crawl"],
                  "range": ["#fdd4c2","#fcaf93","#fc8161","#f5523a","#d52221","#aa1016","#23425f","#1d5987","#166fad","#1f80c8","#4a9cd6","#7cb6e2"]},
        "legend": {"orient": "none", "legendX": 694, "legendY": 0, "title": null, "symbolType": "stroke", "symbolSize": 1156, "symbolStrokeWidth": 3.5, "labelFontSize": 17, "labelColor": "#262626", "labelFont": "Liberation Sans", "clipHeight": 18, "rowPadding": 7, "padding": 4, "strokeColor": "#cccccc", "cornerRadius": 4, "fillColor": "white", "labelOffset": 14, "labelLimit": 500}},
  "strokeDash": {"field": "s", "type": "nominal",
        "scale": {"domain": ["w2v max Google-News","w2v_thesaurus max Google-News","w2v max Elsevier","w2v_thesaurus max Elsevier","w2v max Common-Crawl","w2v_thesaurus max Common-Crawl","w2v average Google-News","w2v_thesaurus average Google-News","w2v average Elsevier","w2v_thesaurus average Elsevier","w2v average Common-Crawl","w2v_thesaurus average Common-Crawl"],
                  "range": [[13,5.5],[13,5.5],[13,5.5],[13,5.5],[13,5.5],[13,5.5],[3.5,5],[3.5,5],[3.5,5],[3.5,5],[3.5,5],[3.5,5]]},
        "legend": {"orient": "none", "legendX": 694, "legendY": 0, "title": null, "symbolType": "stroke", "symbolSize": 1156, "symbolStrokeWidth": 3.5, "labelFontSize": 17, "labelColor": "#262626", "labelFont": "Liberation Sans", "clipHeight": 18, "rowPadding": 7, "padding": 4, "strokeColor": "#cccccc", "cornerRadius": 4, "fillColor": "white", "labelOffset": 14, "labelLimit": 500}}
},
"config": {
  "font": "Liberation Sans",
  "background": "white",
  "view": {"stroke": "#cccccc", "strokeWidth": 1.5},
  "axis": {"domain": false, "ticks": false, "grid": true, "gridColor": "#cccccc", "gridDash": [6, 3], "gridWidth": 1.2,
           "labelFontSize": 17, "labelColor": "#262626", "labelFont": "Liberation Sans",
           "titleFontSize": 18.5, "titleFontWeight": "normal", "titleColor": "#262626", "titleFont": "Liberation Sans"}
}
}
